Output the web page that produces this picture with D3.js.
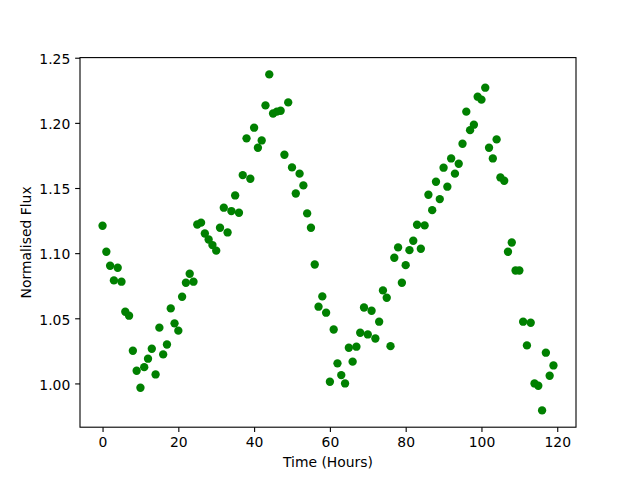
<!DOCTYPE html>
<html>
<head>
<meta charset="utf-8">
<script src="https://cdn.jsdelivr.net/npm/d3@7"></script>
<style>
  body { margin: 0; background: #fff; }
  text { font-family: "DejaVu Sans", sans-serif; }
</style>
</head>
<body>
<script>
// time of each sample (hours)
var hours = [0, 1, 2, 3, 4, 5, 6, 7, 8, 9, 10, 11, 12, 13, 14, 15, 16, 17, 18, 19,
             20, 21, 22, 23, 24, 25, 26, 27, 28, 29, 30, 31, 32, 33, 34, 35, 36, 37, 38, 39,
             40, 41, 42, 43, 44, 45, 46, 47, 48, 49, 50, 51, 52, 53, 54, 55, 56, 57, 58, 59,
             60, 61, 62, 63, 64, 65, 66, 67, 68, 69, 70, 71, 72, 73, 74, 75, 76, 77, 78, 79,
             80, 81, 82, 83, 84, 85, 86, 87, 88, 89, 90, 91, 92, 93, 94, 95, 96, 97, 98, 99,
             100, 101, 102, 103, 104, 105, 106, 107, 108, 109, 110, 111, 112, 113, 114, 115, 116, 117, 118, 119];

// normalised flux
var flux = [1.1210, 1.1011, 1.0903, 1.0791, 1.0888, 1.0781, 1.0550, 1.0520, 1.0251, 1.0097,
            0.9967, 1.0125, 1.0190, 1.0266, 1.0069, 1.0428, 1.0223, 1.0299, 1.0576, 1.0461,
            1.0405, 1.0665, 1.0773, 1.0842, 1.0781, 1.1220, 1.1234, 1.1151, 1.1105, 1.1062,
            1.1019, 1.1195, 1.1349, 1.1159, 1.1323, 1.1443, 1.1310, 1.1599, 1.1881, 1.1571,
            1.1963, 1.1809, 1.1865, 1.2134, 1.2372, 1.2072, 1.2086, 1.2093, 1.1755, 1.2157,
            1.1658, 1.1458, 1.1610, 1.1520, 1.1305, 1.1195, 1.0913, 1.0589, 1.0668, 1.0543,
            1.0013, 1.0414, 1.0154, 1.0064, 1.0000, 1.0274, 1.0167, 1.0282, 1.0389, 1.0583,
            1.0376, 1.0558, 1.0345, 1.0474, 1.0714, 1.0658, 1.0286, 1.0965, 1.1044, 1.0773,
            1.0908, 1.1023, 1.1095, 1.1218, 1.1034, 1.1213, 1.1448, 1.1330, 1.1548, 1.1415,
            1.1656, 1.1510, 1.1727, 1.1610, 1.1686, 1.1840, 1.2086, 1.1944, 1.1986, 1.2201,
            1.2178, 1.2270, 1.1809, 1.1727, 1.1873, 1.1581, 1.1556, 1.1011, 1.1082, 1.0867,
            1.0867, 1.0474, 1.0292, 1.0466, 1.0000, 0.9982, 0.9793, 1.0236, 1.0059, 1.0138];

var xTicks = [0, 20, 40, 60, 80, 100, 120];
var yTicks = [1.00, 1.05, 1.10, 1.15, 1.20, 1.25];

// matplotlib-ish default layout for a 640x480 figure
var margin = {top: 57.6, right: 64, bottom: 52.8, left: 80};
var w = 640 - margin.left - margin.right;
var h = 480 - margin.top - margin.bottom;
var fontSize = 13.9;
var tickLen = 4.86;

var data = hours.map(function(d, i) { return {t: d, f: flux[i]}; });

var svg = d3.select('body').append('svg')
            .attr('width', 640)
            .attr('height', 480);

svg.append('rect')
   .attr('width', 640)
   .attr('height', 480)
   .attr('fill', '#fff');

// 5% margins like matplotlib autoscale
var xExt = d3.extent(hours), xPad = (xExt[1] - xExt[0]) * 0.05;
var yExt = d3.extent(flux), yPad = (yExt[1] - yExt[0]) * 0.05;

var xScale = d3.scaleLinear().domain([xExt[0] - xPad, xExt[1] + xPad]).range([0, w]);
var yScale = d3.scaleLinear().domain([yExt[0] - yPad, yExt[1] + yPad]).range([h, 0]);

var focus = svg.append('g')
               .attr('transform', 'translate(' + margin.left + ',' + margin.top + ')');

var xAxis = d3.axisBottom(xScale)
              .tickValues(xTicks)
              .tickFormat(d3.format('d'))
              .tickSizeInner(tickLen)
              .tickSizeOuter(0)
              .tickPadding(4.86);
var yAxis = d3.axisLeft(yScale)
              .tickValues(yTicks)
              .tickFormat(d3.format('.2f'))
              .tickSizeInner(tickLen)
              .tickSizeOuter(0)
              .tickPadding(4.86);

var gx = focus.append('g')
     .attr('class', 'axis axis--x')
     .attr('transform', 'translate(0,' + h + ')')
     .call(xAxis);
var gy = focus.append('g')
     .attr('class', 'axis axis--y')
     .call(yAxis);

[gx, gy].forEach(function(g) {
  g.select('.domain').remove();
  g.attr('font-size', fontSize).attr('font-family', '"DejaVu Sans", sans-serif');
  g.selectAll('line').attr('stroke', '#000').attr('stroke-width', 1.1);
  g.selectAll('text').attr('fill', '#000');
});
// matplotlib sits y tick labels a touch lower
gy.selectAll('text').attr('dy', '0.42em');

// points
focus.append('g')
     .attr('class', 'point')
     .selectAll('circle')
     .data(data)
     .enter()
     .append('circle')
     .attr('cx', function(d) { return xScale(d.t); })
     .attr('cy', function(d) { return yScale(d.f); })
     .attr('r', 4.17)
     .attr('fill', 'green');

// frame
focus.append('rect')
     .attr('width', w)
     .attr('height', h)
     .attr('fill', 'none')
     .attr('stroke', '#000')
     .attr('stroke-width', 1.1);

// labels
focus.append('text')
     .attr('text-anchor', 'middle')
     .attr('font-size', fontSize)
     .attr('x', w / 2)
     .attr('y', h + 40)
     .text('Time (Hours)');
focus.append('text')
     .attr('text-anchor', 'middle')
     .attr('font-size', fontSize)
     .attr('transform', 'translate(' + (31 - margin.left) + ',' + (h / 2) + ')rotate(-90)')
     .text('Normalised Flux');
</script>
</body>
</html>
